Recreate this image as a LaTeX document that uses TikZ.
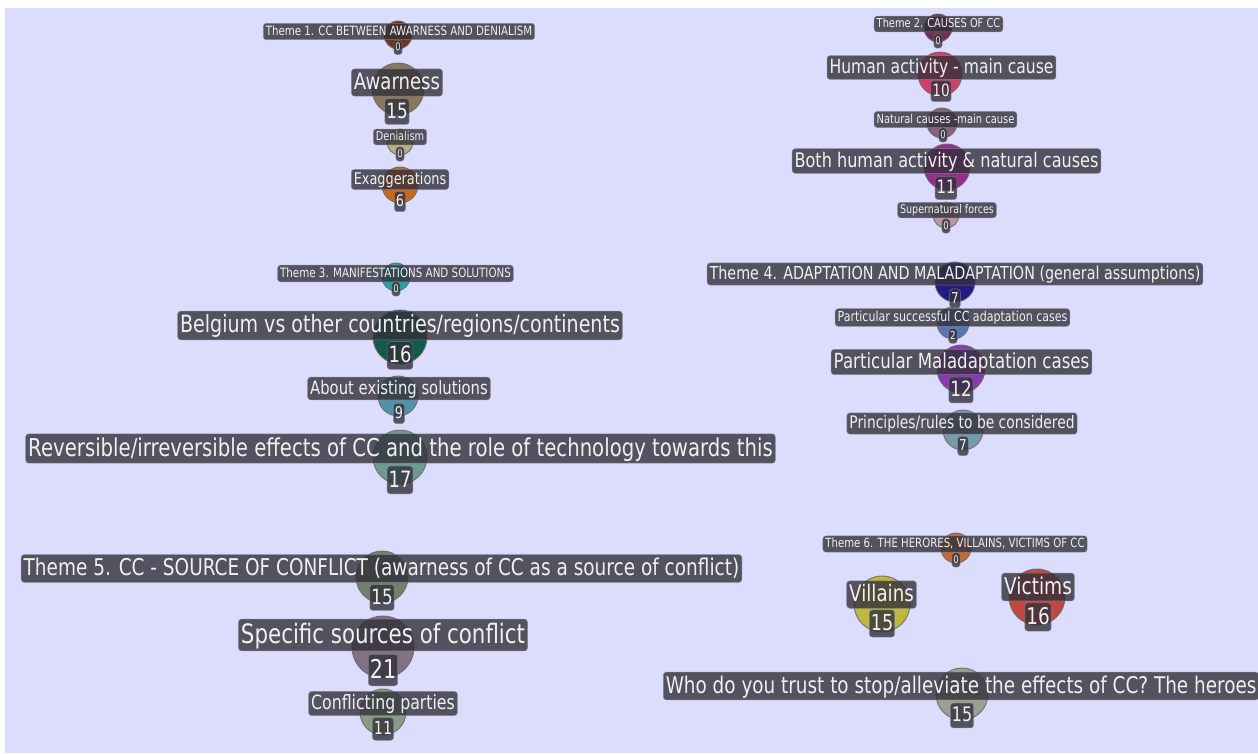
\documentclass[tikz,border=0pt]{standalone}
\usepackage{fontspec}
\setmainfont{DejaVu Sans}[FakeStretch=0.80]

\definecolor{bg}{RGB}{220,220,252}
\definecolor{tagfill}{RGB}{50,48,58}
\definecolor{tagline}{RGB}{135,135,145}
\definecolor{tone}{RGB}{100,42,5}
\definecolor{awar}{RGB}{128,112,82}
\definecolor{deni}{RGB}{180,175,125}
\definecolor{exag}{RGB}{200,95,10}
\definecolor{ttwo}{RGB}{105,32,72}
\definecolor{human}{RGB}{210,50,90}
\definecolor{natur}{RGB}{125,88,112}
\definecolor{both}{RGB}{145,30,135}
\definecolor{supern}{RGB}{180,148,158}
\definecolor{tthree}{RGB}{20,160,160}
\definecolor{belg}{RGB}{0,80,58}
\definecolor{about}{RGB}{70,140,165}
\definecolor{rever}{RGB}{100,150,140}
\definecolor{tfour}{RGB}{18,12,120}
\definecolor{succ}{RGB}{80,110,170}
\definecolor{malad}{RGB}{130,45,170}
\definecolor{princ}{RGB}{110,150,165}
\definecolor{tfive}{RGB}{105,120,95}
\definecolor{spec}{RGB}{120,105,120}
\definecolor{confl}{RGB}{130,150,120}
\definecolor{tsix}{RGB}{190,100,40}
\definecolor{vill}{RGB}{190,180,50}
\definecolor{vict}{RGB}{190,60,48}
\definecolor{who}{RGB}{150,155,140}

\newcommand{\fsz}[1]{\fontsize{#1}{#1}\selectfont}

\tikzstyle{bubble}=[circle, inner sep=0pt, draw=black!60, draw opacity=0.8, line width=1pt, fill opacity=0.92]
\tikzstyle{tag}=[rectangle, rounded corners=3pt, fill=tagfill, fill opacity=0.8, text opacity=1, draw=tagline, draw opacity=0.8, line width=0.5pt, text=white!94!black, inner xsep=2.5pt, inner ysep=1.2pt, execute at begin node={\rule[-0.24em]{0pt}{1.1em}}]
\tikzstyle{count}=[tag, inner xsep=1.5pt, inner ysep=1.2pt, execute at begin node={\rule[-0.12em]{0pt}{1.0em}}]

\begin{document}
\begin{tikzpicture}[x=1pt, y=-1pt]
  \clip (0,0) rectangle (1258,753);
  \fill[white] (0,0) rectangle (1258,753);
  \fill[bg] (5,8) rectangle (1258,753);

  % Theme 1
  \node (tone) [bubble, fill=tone, minimum size=28] at (398,35) {};
  \node (tone-l) [tag, font=\fsz{12.8}] at (399,31.5) {Theme 1. CC BETWEEN AWARNESS AND DENIALISM};
  \node (tone-c) [count, font=\fsz{10.5}] at (398,47.5) {0};
  \node (awar) [bubble, fill=awar, minimum size=52] at (398,89) {};
  \node (awar-l) [tag, font=\fsz{22.6}] at (397,82.5) {Awarness};
  \node (awar-c) [count, font=\fsz{21}] at (397,111.5) {15};
  \node (deni) [bubble, fill=deni, minimum size=26] at (400,142) {};
  \node (deni-l) [tag, font=\fsz{12.2}] at (400,137) {Denialism};
  \node (deni-c) [count, font=\fsz{10.5}] at (400,154) {0};
  \node (exag) [bubble, fill=exag, minimum size=36] at (400,185) {};
  \node (exag-l) [tag, font=\fsz{16.1}] at (400,179.5) {Exaggerations};
  \node (exag-c) [count, font=\fsz{16}] at (400,201.5) {6};

  % Theme 2
  \node (ttwo) [bubble, fill=ttwo, minimum size=28] at (938,28) {};
  \node (ttwo-l) [tag, font=\fsz{12.3}] at (938.5,24) {Theme 2. CAUSES OF CC};
  \node (ttwo-c) [count, font=\fsz{10.5}] at (938,41) {0};
  \node (human) [bubble, fill=human, minimum size=44] at (940,74) {};
  \node (human-l) [tag, font=\fsz{19.5}] at (941.5,67.5) {Human activity - main cause};
  \node (human-c) [count, font=\fsz{17}] at (941,91) {10};
  \node (natur) [bubble, fill=natur, minimum size=30] at (942,123) {};
  \node (natur-l) [tag, font=\fsz{12.4}] at (945.5,119.5) {Natural causes -main cause};
  \node (natur-c) [count, font=\fsz{10.5}] at (943,135) {0};
  \node (both) [bubble, fill=both, minimum size=46] at (947,167) {};
  \node (both-l) [tag, font=\fsz{20.1}] at (946.5,161) {Both human activity \& natural causes};
  \node (both-c) [count, font=\fsz{18.5}] at (946,188) {11};
  \node (supern) [bubble, fill=supern, minimum size=26] at (946,215) {};
  \node (supern-l) [tag, font=\fsz{11.9}] at (947,210) {Supernatural forces};
  \node (supern-c) [count, font=\fsz{10.5}] at (946,226) {0};

  % Theme 3
  \node (tthree) [bubble, fill=tthree, minimum size=28] at (396,277) {};
  \node (tthree-l) [tag, font=\fsz{12.9}] at (395.5,273.5) {Theme 3. MANIFESTATIONS AND SOLUTIONS};
  \node (tthree-c) [count, font=\fsz{10.5}] at (396,289) {0};
  \node (belg) [bubble, fill=belg, minimum size=54] at (400,337) {};
  \node (belg-l) [tag, font=\fsz{23.8}] at (400,325.5) {Belgium vs other countries/regions/continents};
  \node (belg-c) [count, font=\fsz{22.5}] at (400,355.5) {16};
  \node (about) [bubble, fill=about, minimum size=40] at (398,396) {};
  \node (about-l) [tag, font=\fsz{18.5}] at (399,388.5) {About existing solutions};
  \node (about-c) [count, font=\fsz{16}] at (399,413.5) {9};
  \node (rever) [bubble, fill=rever, minimum size=54] at (400,457) {};
  \node (rever-l) [tag, font=\fsz{24.6}] at (400.5,448.5) {Reversible/irreversible effects of CC and the role of technology towards this};
  \node (rever-c) [count, font=\fsz{22.5}] at (400,480) {17};

  % Theme 4
  \node (tfour) [bubble, fill=tfour, minimum size=40] at (955,282) {};
  \node (tfour-l) [tag, font=\fsz{17.9}] at (955,274) {Theme 4. ADAPTATION AND MALADAPTATION (general assumptions)};
  \node (tfour-c) [count, font=\fsz{15}] at (955,298.5) {7};
  \node (succ) [bubble, fill=succ, minimum size=32] at (953,323) {};
  \node (succ-l) [tag, font=\fsz{13.8}] at (952.5,317.5) {Particular successful CC adaptation cases};
  \node (succ-c) [count, font=\fsz{11}] at (953,336) {2};
  \node (malad) [bubble, fill=malad, minimum size=48] at (961,369) {};
  \node (malad-l) [tag, font=\fsz{20.8}] at (961.5,362) {Particular Maladaptation cases};
  \node (malad-c) [count, font=\fsz{21}] at (961,390) {12};
  \node (princ) [bubble, fill=princ, minimum size=40] at (963,430) {};
  \node (princ-l) [tag, font=\fsz{17.3}] at (962,423.5) {Principles/rules to be considered};
  \node (princ-c) [count, font=\fsz{15}] at (963,446) {7};

  % Theme 5
  \node (tfive) [bubble, fill=tfive, minimum size=52] at (382,577) {};
  \node (tfive-l) [tag, font=\fsz{23.1}] at (381.5,568.5) {Theme 5. CC - SOURCE OF CONFLICT (awarness of CC as a source of conflict)};
  \node (tfive-c) [count, font=\fsz{21}] at (382,597.5) {15};
  \node (spec) [bubble, fill=spec, minimum size=62] at (383,647) {};
  \node (spec-l) [tag, font=\fsz{26.7}] at (383,635) {Specific sources of conflict};
  \node (spec-c) [count, font=\fsz{26}] at (383,670) {21};
  \node (confl) [bubble, fill=confl, minimum size=46] at (383,712) {};
  \node (confl-l) [tag, font=\fsz{19.7}] at (383,703.5) {Conflicting parties};
  \node (confl-c) [count, font=\fsz{18}] at (383,729) {11};

  % Theme 6
  \node (tsix) [bubble, fill=tsix, minimum size=30] at (956,548) {};
  \node (tsix-l) [tag, font=\fsz{12.7}] at (955,544) {Theme 6. THE HERORES, VILLAINS, VICTIMS OF CC};
  \node (tsix-c) [count, font=\fsz{10.5}] at (956,560) {0};
  \node (vill) [bubble, fill=vill, minimum size=56] at (882,604) {};
  \node (vill-l) [tag, font=\fsz{22.8}] at (881.5,594.5) {Villains};
  \node (vill-c) [count, font=\fsz{22}] at (882,623.5) {15};
  \node (vict) [bubble, fill=vict, minimum size=56] at (1037,597) {};
  \node (vict-l) [tag, font=\fsz{23.2}] at (1038,587) {Victims};
  \node (vict-c) [count, font=\fsz{23}] at (1038,617) {16};
  \node (who) [bubble, fill=who, minimum size=52] at (962,694) {};
  \node (who-l) [tag, font=\fsz{23}, anchor=west] at (663,686) {Who do you trust to stop/alleviate the effects of CC? The heroes};
  \node (who-c) [count, font=\fsz{20}] at (962,715.5) {15};
\end{tikzpicture}
\end{document}
